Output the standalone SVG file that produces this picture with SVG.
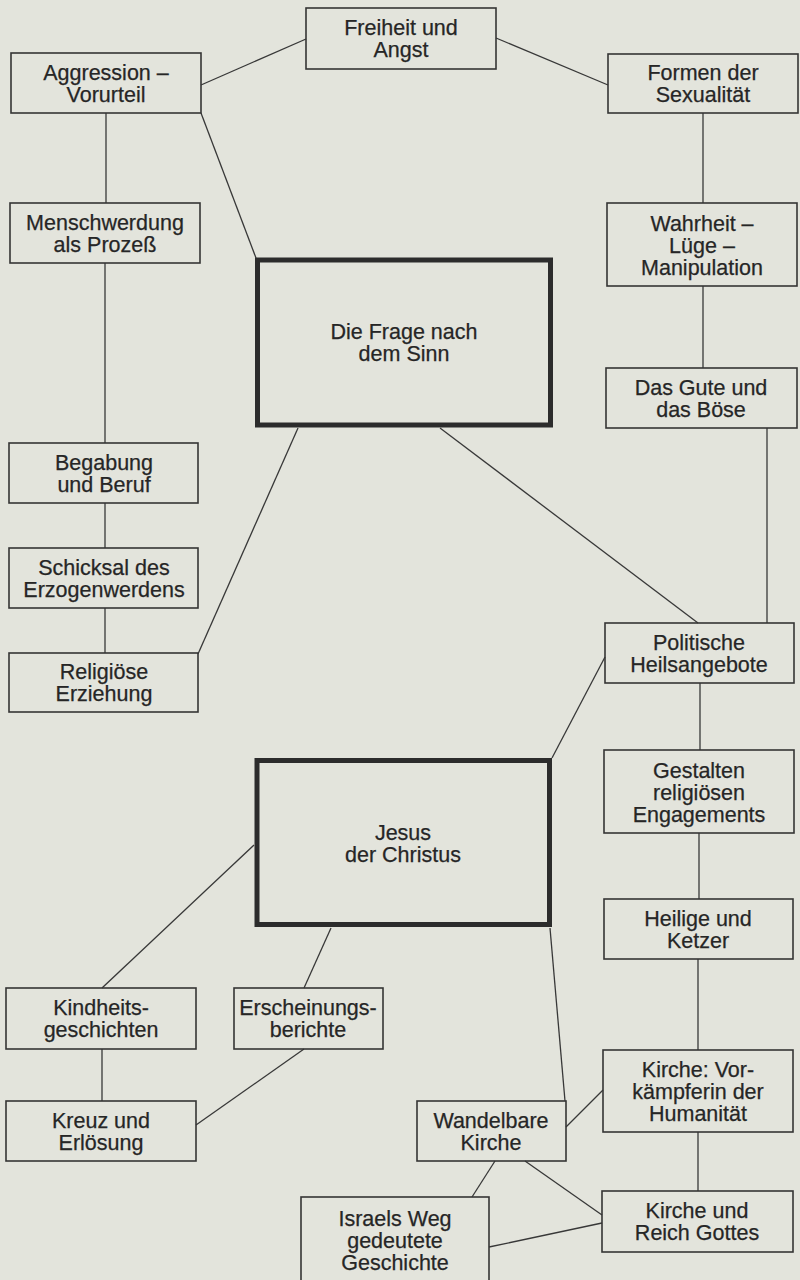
<svg xmlns="http://www.w3.org/2000/svg" width="800" height="1280" viewBox="0 0 800 1280">
<style>
.bg{fill:#e3e4dc}
.box{fill:none;stroke:#353535;stroke-width:1.6}
.big{fill:none;stroke:#2c2c2c;stroke-width:5}
.lbl{font-family:"Liberation Sans",Arial,sans-serif;font-size:21.5px;fill:#262626;stroke:#262626;stroke-width:0.25;text-anchor:middle}
#connectors line{stroke:#383838;stroke-width:1.3;fill:none}
</style>
<rect class="bg" x="0" y="0" width="800" height="1280"/>
<g id="connectors">
<line x1="201" y1="85" x2="306" y2="39"/>
<line x1="496" y1="38" x2="608" y2="85"/>
<line x1="201" y1="113" x2="256" y2="258"/>
<line x1="106" y1="113" x2="106" y2="203"/>
<line x1="703" y1="113" x2="703" y2="203"/>
<line x1="703" y1="286" x2="703" y2="368"/>
<line x1="105" y1="263" x2="105" y2="443"/>
<line x1="105" y1="503" x2="105" y2="548"/>
<line x1="105" y1="608" x2="105" y2="653"/>
<line x1="298" y1="428" x2="198" y2="654"/>
<line x1="440" y1="428" x2="698" y2="623"/>
<line x1="767" y1="428" x2="767" y2="623"/>
<line x1="605" y1="657" x2="552" y2="758"/>
<line x1="700" y1="683" x2="700" y2="750"/>
<line x1="699" y1="833" x2="699" y2="899"/>
<line x1="698" y1="959" x2="698" y2="1050"/>
<line x1="698" y1="1132" x2="698" y2="1191"/>
<line x1="254" y1="845" x2="102" y2="988"/>
<line x1="331" y1="928" x2="304" y2="988"/>
<line x1="102" y1="1049" x2="102" y2="1101"/>
<line x1="304" y1="1049" x2="196" y2="1125"/>
<line x1="550" y1="928" x2="565" y2="1101"/>
<line x1="566" y1="1127" x2="603" y2="1090"/>
<line x1="495" y1="1161" x2="472" y2="1197"/>
<line x1="525" y1="1161" x2="602" y2="1215"/>
<line x1="489" y1="1247" x2="602" y2="1223"/>
</g>
<g id="n-freiheit"><rect class="box" x="306" y="8" width="190" height="61"/><text class="lbl" x="401" y="35">Freiheit und</text><text class="lbl" x="401" y="57">Angst</text></g>
<g id="n-aggression"><rect class="box" x="11" y="53" width="190" height="60"/><text class="lbl" x="106" y="80">Aggression –</text><text class="lbl" x="106" y="102">Vorurteil</text></g>
<g id="n-formen"><rect class="box" x="608" y="54" width="190" height="59"/><text class="lbl" x="703" y="80">Formen der</text><text class="lbl" x="703" y="102">Sexualität</text></g>
<g id="n-menschwerdung"><rect class="box" x="10" y="203" width="190" height="60"/><text class="lbl" x="105" y="230">Menschwerdung</text><text class="lbl" x="105" y="252">als Prozeß</text></g>
<g id="n-wahrheit"><rect class="box" x="607" y="203" width="190" height="83"/><text class="lbl" x="702" y="231">Wahrheit –</text><text class="lbl" x="702" y="253">Lüge –</text><text class="lbl" x="702" y="275">Manipulation</text></g>
<g id="n-frage"><rect class="big" x="257.5" y="260" width="293" height="165"/><text class="lbl" x="404" y="339">Die Frage nach</text><text class="lbl" x="404" y="361">dem Sinn</text></g>
<g id="n-gute"><rect class="box" x="606" y="368" width="191" height="60"/><text class="lbl" x="701" y="395">Das Gute und</text><text class="lbl" x="701" y="417">das Böse</text></g>
<g id="n-begabung"><rect class="box" x="9" y="443" width="189" height="60"/><text class="lbl" x="104" y="470">Begabung</text><text class="lbl" x="104" y="492">und Beruf</text></g>
<g id="n-schicksal"><rect class="box" x="9" y="548" width="189" height="60"/><text class="lbl" x="104" y="575">Schicksal des</text><text class="lbl" x="104" y="597">Erzogenwerdens</text></g>
<g id="n-religioese"><rect class="box" x="9" y="653" width="189" height="59"/><text class="lbl" x="104" y="679">Religiöse</text><text class="lbl" x="104" y="701">Erziehung</text></g>
<g id="n-politische"><rect class="box" x="605" y="623" width="189" height="60"/><text class="lbl" x="699" y="650">Politische</text><text class="lbl" x="699" y="672">Heilsangebote</text></g>
<g id="n-gestalten"><rect class="box" x="604" y="750" width="190" height="83"/><text class="lbl" x="699" y="778">Gestalten</text><text class="lbl" x="699" y="800">religiösen</text><text class="lbl" x="699" y="822">Engagements</text></g>
<g id="n-jesus"><rect class="big" x="257" y="760.5" width="292.5" height="164"/><text class="lbl" x="403" y="840">Jesus</text><text class="lbl" x="403" y="862">der Christus</text></g>
<g id="n-heilige"><rect class="box" x="604" y="899" width="189" height="60"/><text class="lbl" x="698" y="926">Heilige und</text><text class="lbl" x="698" y="948">Ketzer</text></g>
<g id="n-kindheits"><rect class="box" x="6" y="988" width="190" height="61"/><text class="lbl" x="101" y="1015">Kindheits-</text><text class="lbl" x="101" y="1037">geschichten</text></g>
<g id="n-erscheinungs"><rect class="box" x="234" y="988" width="149" height="61"/><text class="lbl" x="308" y="1015">Erscheinungs-</text><text class="lbl" x="308" y="1037">berichte</text></g>
<g id="n-kirche-vor"><rect class="box" x="603" y="1050" width="190" height="82"/><text class="lbl" x="698" y="1077">Kirche: Vor-</text><text class="lbl" x="698" y="1099">kämpferin der</text><text class="lbl" x="698" y="1121">Humanität</text></g>
<g id="n-kreuz"><rect class="box" x="6" y="1101" width="190" height="60"/><text class="lbl" x="101" y="1128">Kreuz und</text><text class="lbl" x="101" y="1150">Erlösung</text></g>
<g id="n-wandelbare"><rect class="box" x="417" y="1101" width="149" height="60"/><text class="lbl" x="491" y="1128">Wandelbare</text><text class="lbl" x="491" y="1150">Kirche</text></g>
<g id="n-reich"><rect class="box" x="602" y="1191" width="191" height="61"/><text class="lbl" x="697" y="1218">Kirche und</text><text class="lbl" x="697" y="1240">Reich Gottes</text></g>
<g id="n-israel"><rect class="box" x="301" y="1197" width="188" height="90"/><text class="lbl" x="395" y="1226">Israels Weg</text><text class="lbl" x="395" y="1248">gedeutete</text><text class="lbl" x="395" y="1270">Geschichte</text></g>
</svg>
